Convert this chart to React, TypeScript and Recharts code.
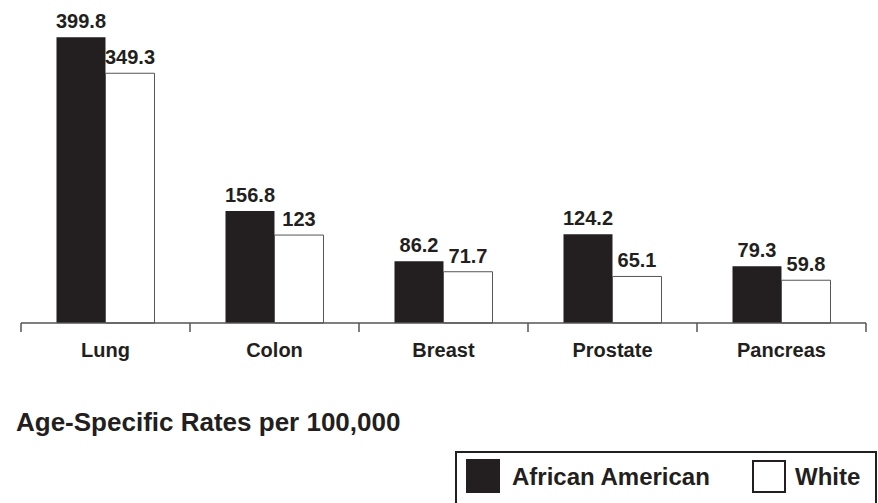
import { BarChart, Bar, XAxis, YAxis, LabelList } from 'recharts';

// cancer sites and age-specific rates per 100,000
const sites = ['Lung', 'Colon', 'Breast', 'Prostate', 'Pancreas'];
const africanAmerican = [399.8, 156.8, 86.2, 124.2, 79.3];
const white = [349.3, 123, 71.7, 65.1, 59.8];

const data = sites.map((site, i) => ({
  site,
  africanAmerican: africanAmerican[i],
  white: white[i],
}));

const INK = '#231f20';
const FONT = '"Liberation Sans", Arial, sans-serif';

// category label plus tick marks on the band edges
const SiteTick = (props: any) => {
  const { x, y, payload, index } = props;
  const half = payload && payload.offset ? payload.offset : 84.5;
  const last = index === sites.length - 1;
  return (
    <g>
      <line x1={x - half} x2={x - half} y1={y} y2={y + 9} stroke="#555" strokeWidth={1.5} />
      {last && (
        <line x1={x + half} x2={x + half} y1={y} y2={y + 9} stroke="#555" strokeWidth={1.5} />
      )}
      <text
        x={x}
        y={y + 34}
        textAnchor="middle"
        fontFamily={FONT}
        fontWeight="bold"
        fontSize={20}
        fill={INK}
      >
        {payload.value}
      </text>
    </g>
  );
};

const labelStyle = {
  fontFamily: FONT,
  fontWeight: 'bold' as const,
  fontSize: 20,
  fill: INK,
};

export default function App() {
  return (
    <div style={{ position: 'absolute', left: 0, top: 0, width: 878, height: 503, background: '#fff', overflow: 'hidden' }}>
      <BarChart
        width={878}
        height={503}
        data={data}
        margin={{ top: 37, right: 12, left: 21, bottom: 0 }}
        barCategoryGap="21%"
        barGap={0}
      >
        <XAxis
          dataKey="site"
          height={180}
          axisLine={{ stroke: '#555', strokeWidth: 1.5 }}
          tickLine={false}
          tickSize={0}
          tickMargin={0}
          tick={<SiteTick />}
          interval={0}
        />
        <YAxis hide domain={[0, 400]} />
        <Bar dataKey="africanAmerican" fill={INK} isAnimationActive={false}>
          <LabelList dataKey="africanAmerican" position="top" offset={9} style={labelStyle} />
        </Bar>
        <Bar dataKey="white" fill="#fff" stroke="#555" strokeWidth={1} isAnimationActive={false}>
          <LabelList dataKey="white" position="top" offset={9} style={labelStyle} />
        </Bar>
      </BarChart>

      <div
        style={{
          position: 'absolute',
          left: 16,
          top: 409,
          fontFamily: FONT,
          fontWeight: 'bold',
          fontSize: 26,
          lineHeight: 1,
          color: INK,
          whiteSpace: 'nowrap',
        }}
      >
        Age-Specific Rates per 100,000
      </div>

      <div
        style={{
          position: 'absolute',
          left: 455,
          top: 451,
          width: 422,
          height: 70,
          border: `2px solid ${INK}`,
          boxSizing: 'border-box',
          fontFamily: FONT,
          fontWeight: 'bold',
          fontSize: 24,
          lineHeight: 1,
          color: INK,
        }}
      >
        <div style={{ position: 'absolute', left: 9, top: 6, width: 34, height: 34, background: INK }} />
        <div style={{ position: 'absolute', left: 55, top: 12, whiteSpace: 'nowrap' }}>African American</div>
        <div
          style={{
            position: 'absolute',
            left: 295,
            top: 7,
            width: 34,
            height: 33,
            border: `2px solid ${INK}`,
            boxSizing: 'border-box',
            background: '#fff',
          }}
        />
        <div style={{ position: 'absolute', left: 338, top: 12, whiteSpace: 'nowrap' }}>White</div>
      </div>
    </div>
  );
}
